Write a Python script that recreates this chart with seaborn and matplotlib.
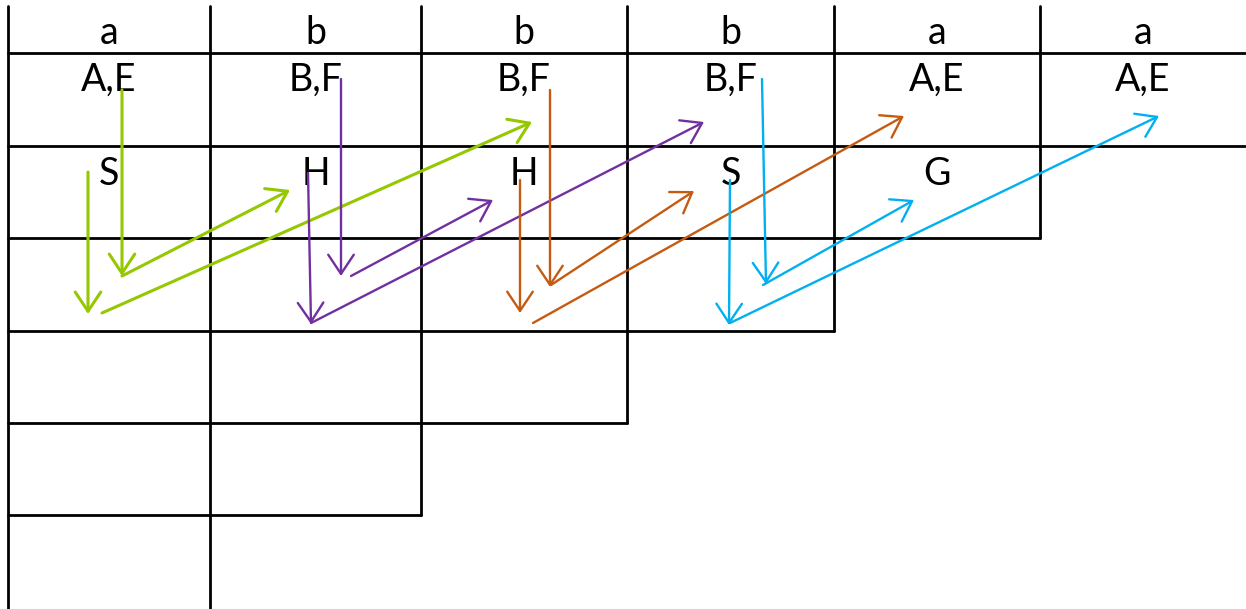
#!/usr/bin/env python3
"""
Staircase table with coloured arrows (pixel-space layout, y pointing down).

Outputs:
  - out.png
"""

import matplotlib.pyplot as plt
import pandas as pd
import seaborn as sns

# column / row edges of the table, in pixels
COL_EDGES = [8, 210, 421, 627, 834, 1040, 1246]
ROW_EDGES = [6, 53, 146, 238, 331, 423, 515, 609]
# how far down each vertical line goes (index into ROW_EDGES)
VLINE_BOTTOM = [7, 7, 6, 5, 4, 3]
# how far right each horizontal line goes (index into COL_EDGES)
HLINE_RIGHT = [6, 6, 5, 4, 3, 2]

HEADER = ["a", "b", "b", "b", "a", "a"]
ROW_1 = ["A,E", "B,F", "B,F", "B,F", "A,E", "A,E"]
ROW_2 = ["S", "H", "H", "S", "G"]

# arrows: (x0, y0, x1, y1), head at (x1, y1)
GREEN = [(122, 90, 122, 276), (122, 276, 290, 190), (88, 172, 88, 314), (102, 313, 532, 122)]
PURPLE = [(341, 79, 341, 276), (351, 276, 493, 200), (308, 173, 311, 324), (311, 323, 704, 122)]
ORANGE = [(550, 90, 550, 287), (551, 285, 694, 191), (520, 180, 520, 313), (533, 323, 904, 116)]
BLUE = [(762, 79, 766, 284), (763, 285, 914, 200), (730, 180, 729, 325), (730, 323, 1159, 116)]

COLORS = {"green": "#95C800", "purple": "#7030A0", "orange": "#C55A11", "blue": "#00B0F0"}
WIDTHS = {"green": 2.2, "purple": 1.7, "orange": 1.7, "blue": 1.7}

sns.set_theme(style="white")
plt.rcParams["font.family"] = ["Lato", "DejaVu Sans"]

fig = plt.figure(figsize=(12.46, 6.09), dpi=100)
ax = fig.add_axes([0, 0, 1, 1])

# table lines as segments
rows = []
seg = 0
for i, x in enumerate(COL_EDGES[:-1]):
    for y in (ROW_EDGES[0], ROW_EDGES[VLINE_BOTTOM[i]]):
        rows.append({"x": x, "y": y, "seg": seg})
    seg += 1
for j, y in enumerate(ROW_EDGES[1:7]):
    for x in (COL_EDGES[0], COL_EDGES[HLINE_RIGHT[j]]):
        rows.append({"x": x, "y": y, "seg": seg})
    seg += 1
lines = pd.DataFrame(rows)

sns.lineplot(data=lines, x="x", y="y", units="seg", estimator=None, sort=False,
             color="black", lw=2, ax=ax, legend=False)

centers = [(a + b) / 2 for a, b in zip(COL_EDGES[:-1], COL_EDGES[1:])]
for cx, t in zip(centers, HEADER):
    ax.text(cx, 44, t, ha="center", va="baseline", fontsize=27, color="black")
for cx, t in zip(centers, ROW_1):
    ax.text(cx, 91, t, ha="center", va="baseline", fontsize=27, color="black")
for cx, t in zip(centers, ROW_2):
    ax.text(cx, 185, t, ha="center", va="baseline", fontsize=27, color="black")

for name, arrows in [("green", GREEN), ("purple", PURPLE), ("orange", ORANGE), ("blue", BLUE)]:
    for x0, y0, x1, y1 in arrows:
        ax.annotate("", xy=(x1, y1), xytext=(x0, y0),
                    arrowprops=dict(arrowstyle="->,head_length=0.6,head_width=0.4",
                                    color=COLORS[name], lw=WIDTHS[name],
                                    mutation_scale=23, shrinkA=0, shrinkB=0))

ax.set_xlim(0, 1246)
ax.set_ylim(609, 0)
ax.axis("off")

fig.savefig("out.png", dpi=100)
